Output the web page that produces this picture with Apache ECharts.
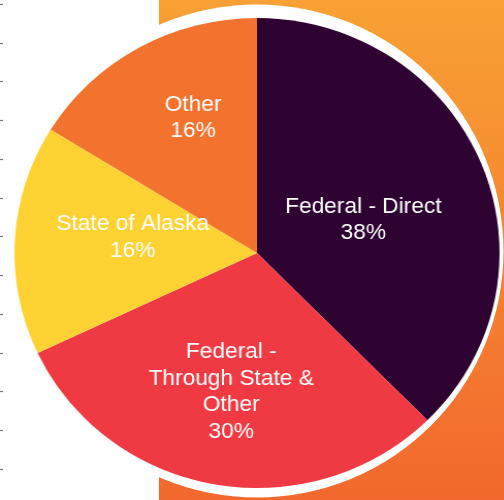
<!DOCTYPE html>
<html>
<head>
<meta charset="utf-8">
<script src="https://cdn.jsdelivr.net/npm/echarts@6/dist/echarts.min.js"></script>
<style>
  html, body { margin: 0; padding: 0; background: #ffffff; }
  #wrap { position: relative; width: 504px; height: 500px; overflow: hidden; }
  #bg, #pie { position: absolute; left: 0; top: 0; width: 504px; height: 500px; }
  #pie { transform: scaleX(1.032); transform-origin: 257px 0; }
</style>
</head>
<body>
<div id="wrap">
  <div id="bg"></div>
  <div id="pie"></div>
</div>
<script>
// ---- data ----
var categories = ['Federal - Direct', 'Federal - Through State & Other', 'State of Alaska', 'Other'];
var displayNames = ['Federal - Direct', 'Federal -\nThrough State &\nOther', 'State of Alaska', 'Other'];
var values = [37.6, 30.4, 15.8, 16.2];
var sliceColors = ['#2E0231', '#F03A43', '#FFD234', '#F3722E'];
var tickValues = [0, 1, 2, 3, 4, 5, 6, 7, 8, 9, 10, 11, 12];

// ---- background chart (orange panel, white disc, left ticks) ----
var bg = echarts.init(document.getElementById('bg'), null, { renderer: 'canvas' });
bg.setOption({
  animation: false,
  grid: { left: 0, right: 503, top: 4, bottom: 31 },
  xAxis: { type: 'value', show: false, min: 0, max: 1 },
  yAxis: {
    type: 'value', min: tickValues[0], max: tickValues[tickValues.length - 1], interval: 1,
    axisLine: { show: false },
    axisTick: { show: true, inside: true, length: 3, lineStyle: { color: '#777777', width: 1.2 } },
    axisLabel: { show: false },
    splitLine: { show: false }
  },
  series: [],
  graphic: [
    {
      type: 'rect', z: -10,
      shape: { x: 159, y: 0, width: 345, height: 500 },
      style: {
        fill: new echarts.graphic.LinearGradient(0, 0, 0, 1, [
          { offset: 0, color: '#F8A134' },
          { offset: 1, color: '#F2682E' }
        ])
      }
    },
    {
      type: 'circle', z: -5,
      shape: { cx: 257, cy: 251, r: 246.5 },
      style: { fill: '#ffffff' }
    }
  ]
});

// ---- pie chart ----
var labelPos = [[360, 220], [232, 392], [136.5, 237.5], [195, 118]];
var pie = echarts.init(document.getElementById('pie'), null, { renderer: 'canvas' });
var pieData = categories.map(function (c, i) {
  return { name: c, value: values[i], itemStyle: { color: sliceColors[i] } };
});
pie.setOption({
  animation: false,
  backgroundColor: 'transparent',
  series: [{
    type: 'pie',
    center: [257, 253],
    radius: [0, 235],
    startAngle: 90,
    clockwise: true,
    percentPrecision: 0,
    data: pieData,
    itemStyle: { borderWidth: 0 },
    emphasis: { disabled: true },
    label: {
      show: true,
      position: 'inside',
      color: '#ffffff',
      fontFamily: 'Liberation Sans, Arial, sans-serif',
      fontSize: 22,
      lineHeight: 26.5,
      align: 'center',
      formatter: function (p) {
        return displayNames[p.dataIndex] + '\n' + p.percent + '%';
      }
    },
    labelLine: { show: false },
    labelLayout: function (p) {
      var lp = labelPos[p.dataIndex];
      return { x: lp[0], y: lp[1], align: 'center', verticalAlign: 'middle' };
    }
  }]
});
</script>
</body>
</html>
